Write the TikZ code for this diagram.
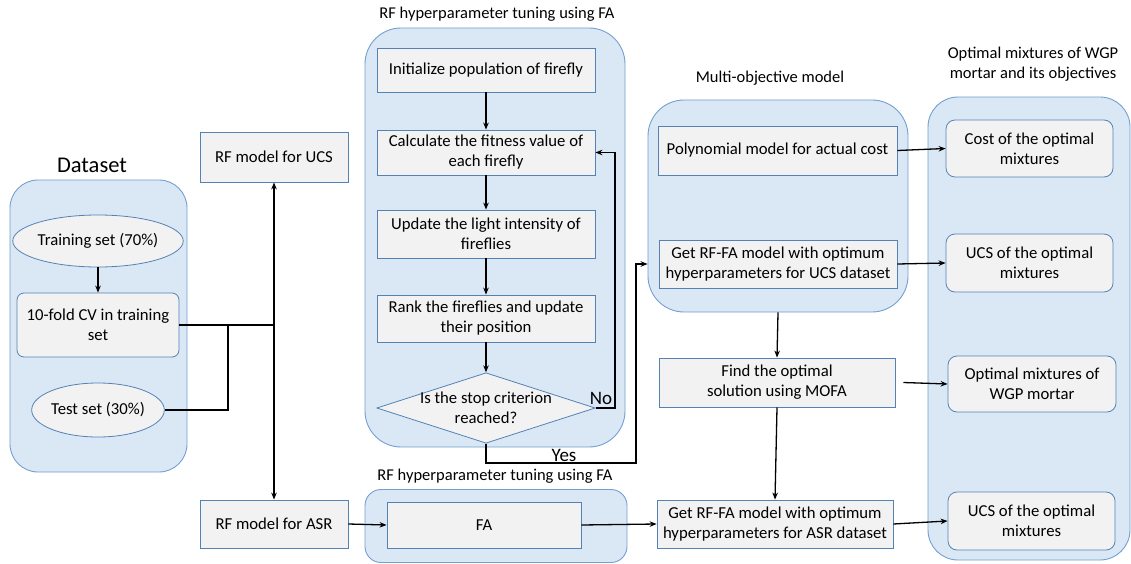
\documentclass[tikz,border=0pt]{standalone}
\usepackage{fontspec}
\setmainfont{Carlito}
\usetikzlibrary{shapes.geometric,arrows.meta}
\definecolor{contfill}{RGB}{218,232,246}
\definecolor{contdraw}{RGB}{115,160,208}
\definecolor{boxfill}{RGB}{242,242,242}
\definecolor{boxdraw}{RGB}{85,130,180}
\begin{document}
\begin{tikzpicture}[x=1pt,y=-1pt,
  container/.style={draw=contdraw, fill=contfill, line width=0.9pt, rounded corners=#1, inner sep=0pt},
  container/.default=30pt,
  procbox/.style={draw=boxdraw, fill=boxfill, line width=0.8pt, align=center, inner sep=0pt, font=\fontsize{16.7}{20}\selectfont},
  softbox/.style={procbox, rounded corners=#1},
  softbox/.default=9pt,
  oval/.style={procbox, ellipse},
  title/.style={align=center, inner sep=0pt, font=\fontsize{16.5}{20.5}\selectfont},
  arr/.style={-{Stealth[length=7pt,width=5.5pt]}, line width=1.3pt},
  conn/.style={line width=1.3pt},
  lab/.style={inner sep=0pt, font=\fontsize{19}{22}\selectfont}
]
\useasboundingbox (0,0) rectangle (1131,564);

% ---------- Dataset ----------
\node[container=28pt, minimum width=177pt, minimum height=292pt] (ds) at (98.5,326) {};
\node[title, font=\fontsize{22.5}{26}\selectfont] (dstitle) at (92,165) {Dataset};
\node[oval, minimum width=130pt, minimum height=52pt] (train) at (98,241) {Training set (70\%)};
\node[softbox=7pt, minimum width=162pt, minimum height=64pt] (cv) at (98,325) {10-fold CV in training\\set};
\node[oval, minimum width=129pt, minimum height=54pt] (test) at (98,410) {Test set (30\%)};

% ---------- RF models ----------
\node[procbox, minimum width=148pt, minimum height=50pt] (rfucs) at (274,157) {RF model for UCS};
\node[procbox, minimum width=148pt, minimum height=48pt] (rfasr) at (274,524) {RF model for ASR};

% ---------- FA tuning ----------
\node[title] (fatitle) at (497,14) {RF hyperparameter tuning using FA};
\node[container=36pt, minimum width=260pt, minimum height=419pt] (fa) at (495,237.5) {};
\node[procbox, minimum width=218pt, minimum height=44pt] (init) at (486,70) {Initialize population of firefly};
\node[procbox, minimum width=218pt, minimum height=45pt] (calc) at (486,152.5) {Calculate the fitness value of\\each firefly};
\node[procbox, minimum width=218pt, minimum height=48pt] (upd) at (486,234) {Update the light intensity of\\fireflies};
\node[procbox, minimum width=218pt, minimum height=47pt] (rank) at (486,318.5) {Rank the fireflies and update\\their position};
\node[procbox, diamond, aspect=3.1, inner xsep=-2.7pt, inner ysep=-1pt, minimum width=217pt, minimum height=70pt] (dia) at (486,408) {Is the stop criterion\\reached?};

% ---------- bottom FA ----------
\node[title] (fa2title) at (495,476) {RF hyperparameter tuning using FA};
\node[container=16pt, minimum width=262pt, minimum height=73pt] (fa2) at (496,526) {};
\node[procbox, minimum width=194pt, minimum height=46pt] (fabox) at (484,525) {FA};

% ---------- Multi-objective ----------
\node[title] (motitle) at (770,78) {Multi-objective model};
\node[container=36pt, minimum width=260pt, minimum height=212pt] (mo) at (778,206) {};
\node[procbox, minimum width=239pt, minimum height=49pt] (poly) at (777.5,150.5) {Polynomial model for actual cost};
\node[procbox, minimum width=238pt, minimum height=48pt] (getucs) at (778,264) {Get RF-FA model with optimum\\hyperparameters for UCS dataset};
\node[procbox, minimum width=236pt, minimum height=49pt] (find) at (777,382.5) {Find the optimal\\solution using MOFA};
\node[procbox, minimum width=236pt, minimum height=48pt] (getasr) at (775,524) {Get RF-FA model with optimum\\hyperparameters for ASR dataset};

% ---------- Optimal mixtures ----------
\node[title] (optitle) at (1033,64) {Optimal mixtures of WGP\\mortar and its objectives};
\node[container=30pt, minimum width=202pt, minimum height=463pt] (op) at (1029,328.5) {};
\node[softbox, minimum width=167pt, minimum height=57pt] (cost) at (1029.5,148.5) {Cost of the optimal\\mixtures};
\node[softbox, minimum width=167pt, minimum height=58pt] (ucsa) at (1029.5,263) {UCS of the optimal\\mixtures};
\node[softbox, minimum width=168pt, minimum height=56pt] (optmix) at (1032,384) {Optimal mixtures of\\WGP mortar};
\node[softbox, minimum width=167pt, minimum height=58pt] (ucsb) at (1031.5,521) {UCS of the optimal\\mixtures};

% ---------- connectors ----------
\draw[arr] (train.south) -- (cv.north);
\coordinate (j1) at (rfucs.south |- cv.east);
\coordinate (j2) at (228,325);
\draw[conn] (cv.east) -- (j1);
\draw[conn] (test.east) -- (j2 |- test.east) -- (j2);
\draw[arr] (j1) -- (rfucs.south);
\draw[arr] (j1) -- (rfasr.north);
\draw[arr] (rfasr.east) -- (fabox.west);
\draw[arr] (fabox.east) -- (getasr.west);

\draw[arr] (init) -- (calc);
\draw[arr] (calc) -- (upd);
\draw[arr] (upd) -- (rank);
\draw[arr] (rank) -- (dia);
\coordinate (nox) at (615,0);
\draw[arr] (dia.east) -- (nox |- dia.east) -- (nox |- calc.east) -- (calc.east);
\node[lab, anchor=south] (no) at (601,405) {No};
\coordinate (yesy) at (0,463);
\coordinate (yesx) at (636,0);
\draw[arr] (dia.south) -- (dia.south |- yesy) -- (yesx |- yesy) -- (yesx |- getucs.west) -- (mo.west |- getucs.west);
\node[lab, anchor=south] (yes) at (564,462) {Yes};

\draw[arr] (mo.south) -- (find.north);
\draw[arr] (find.south) -- (getasr.north);

\draw[arr] (poly.east) -- (cost.west);
\draw[arr] (getucs.east) -- (ucsa.west);
\draw[arr] ([xshift=8pt]find.east) -- (optmix.west);
\draw[arr] (getasr.east) -- (ucsb.west);
\end{tikzpicture}
\end{document}
